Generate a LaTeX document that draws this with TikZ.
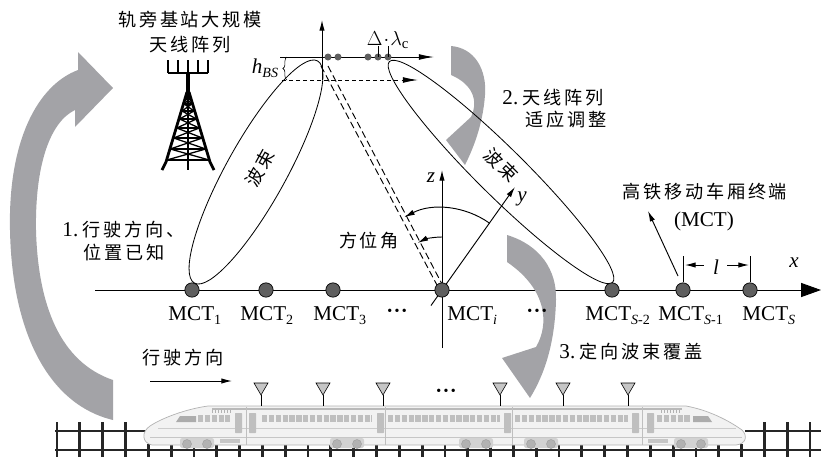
\documentclass[tikz,border=0pt]{standalone}
\usepackage{fontspec}
\setmainfont{Liberation Serif}
\newfontfamily\cjk[LetterSpace=15]{Noto Sans CJK SC}
\usepackage{tikz}
\usetikzlibrary{arrows.meta, decorations.pathreplacing}

\definecolor{bandgray}{RGB}{163,163,167}
\definecolor{dotgray}{RGB}{95,95,95}
% small lowered index in text font
\newcommand{\idx}[1]{\raisebox{-3.5pt}{\fontsize{12}{13}\selectfont #1}}

\begin{document}
\begin{tikzpicture}[x=0.3mm, y=-0.3mm, line width=0.8pt,
  >={Latex[length=9pt,width=4.5pt]},
  every node/.style={inner sep=0pt, font=\fontsize{18}{21}\selectfont},
  cn/.style={font=\fontsize{15.5}{19}\cjk},
  mct/.style={circle, draw, line width=0.6pt, fill=dotgray, minimum size=4.3mm},
  elem/.style={circle, fill=dotgray, inner sep=0pt, minimum size=2.1mm},
  band/.style={fill=bandgray, draw=none},
  beam/.style={line width=0.7pt},
  rail/.style={line width=2.4pt, black!85},
  trainant/.style={fill=gray!45, draw=black, line width=0.5pt}]
\useasboundingbox (0,0) rectangle (821,457);

% gray step arrows (1 and 2)
\fill[band] (113,420) -- (113,380) .. controls (60,362) and (38,305) .. (36,230)
  .. controls (35,165) and (50,122) .. (75,110) -- (75,127) -- (113,88) -- (78,52) -- (78,70)
  .. controls (38,85) and (8,140) .. (10,230) .. controls (12,335) and (50,405) .. (113,420) -- cycle;
\fill[band] (451,46) .. controls (475,48) and (487,70) .. (485,95)
  .. controls (483,122) and (475,145) .. (465,165) -- (446,140) -- (471,117)
  .. controls (479,100) and (472,84) .. (451,75) -- cycle;

% base station tower
\draw[line width=1pt] (168,73) -- (208,73);
\foreach \x in {168,178,188,198,208}
  \draw[line width=1pt] (\x,73) -- (\x,60);
\draw[line width=2.8pt] (188,73) -- (188,100);
\draw[line width=2.4pt] (187,92) -- (166,162) -- (162,170);
\draw[line width=2.4pt] (189,92) -- (210,162) -- (214,170);
\draw[line width=0.9pt] (188,100) -- (188,170);
\foreach \ya/\yb in {98/104,104/111,111/119,119/128,128/138,138/149,149/160} {
  \draw[line width=1.1pt] ({187-(\ya-95)*0.31},\ya) -- ({189+(\yb-95)*0.31},\yb);
  \draw[line width=1.1pt] ({189+(\ya-95)*0.31},\ya) -- ({187-(\yb-95)*0.31},\yb);
  \draw[line width=1.1pt] ({187-(\yb-95)*0.31},\yb) -- ({189+(\yb-95)*0.31},\yb);
}
\node[cn] (bsname) at (190,20) {轨旁基站大规模};
\node[cn] (bsname2) at (190,45) {天线阵列};

% antenna array and height
\coordinate (ant) at (322,80);
\draw[-{Latex[length=13pt,width=5pt]}] (280,57) -- (434,57);
\draw[dashed, -{Latex[length=13pt,width=5pt]}] (282,80) -- (418,80);
\draw[->] (ant) -- (322,20);
\foreach \x in {328,338,368,378,388}
  \node[elem] at (\x,57) {};
\draw[line width=0.6pt] (378,57) -- (378,46);
\draw[line width=0.6pt] (388,57) -- (388,46);
\node (dlam) at (388,40) {$\Delta\!\cdot\!\lambda_{\mathrm{c}}$};
\draw[decorate, decoration={brace, amplitude=3.5pt}, line width=0.5pt] (287,80) -- (287,57);
\node (hbs) at (265,68) {\textit{h}\idx{\textit{BS}}};

% beams
\draw[beam, rotate around={61:(256,172)}] (256,172) ellipse [x radius=127, y radius=30];
\draw[beam, rotate around={-44.7:(501,172)}] (501,172) ellipse [x radius=157, y radius=24];
\node[cn, rotate=61] at (260,168) {波束};
\node[cn, rotate=-45] at (501,165) {波束};
\draw[dashed, dash pattern=on 6pt off 3pt] (321,66) -- (438,287);
\draw[dashed, dash pattern=on 6pt off 3pt] (328,66) -- (443,286);

% x axis with the carriage terminals
\coordinate (xa) at (95,290);
\coordinate (xb) at (821,290);
\draw[-{Triangle[length=17pt,width=12pt]}] (xa) -- (xb);
\node at (794,263) {\textit{x}};
\coordinate (zb) at (442,348);
\coordinate (zt) at (442,170);
\draw[->] (zb) -- (zt);
\node at (431,178) {\textit{z}};
\coordinate (yb) at (431,305.5);
\coordinate (yt) at (515,187);
\draw[->] (yb) -- (yt);
\node at (522,199) {\textit{y}};

% azimuth arcs
\draw[->] (442,290) ++(-54.4:82) arc[start angle=-54.4, end angle=-117.4, radius=82];
\draw[->] (442,290) ++(-90:53) arc[start angle=-90, end angle=-117.4, radius=53];
\node[cn] (azi) at (369,241) {方位角};

% gray step arrow 3
\fill[band] (507,235) .. controls (540,245) and (557,270) .. (556,300)
  .. controls (555,340) and (546,372) .. (530,398) -- (502,358) -- (536,347)
  .. controls (549,325) and (548,290) .. (507,262) -- cycle;

\node[mct] (m1) at (192,290) {};
\node[mct] (m2) at (266,290) {};
\node[mct] (m3) at (333,290) {};
\node[mct] (mi) at (442,290) {};
\node[mct] (ms2) at (612,290) {};
\node[mct] (ms1) at (683,290) {};
\node[mct] (ms) at (750,290) {};

\node[anchor=base west] at (168,320) {MCT\idx{1}};
\node[anchor=base west] at (240,320) {MCT\idx{2}};
\node[anchor=base west] at (313,320) {MCT\idx{3}};
\node at (397,312) {\fontsize{12}{14}\selectfont •\,•\,•};
\node[anchor=base west] at (447,320) {MCT\idx{\textit{i}}};
\node at (537,312) {\fontsize{12}{14}\selectfont •\,•\,•};
\node[anchor=base west] at (585,320) {MCT\idx{\textit{S}-2}};
\node[anchor=base west] at (658,320) {MCT\idx{\textit{S}-1}};
\node[anchor=base west] at (742,320) {MCT\idx{\textit{S}}};

% terminal name and spacing
\node[cn] (mctname) at (705,192) {高铁移动车厢终端};
\node (mctlbl) at (704,221) {(MCT)};
\coordinate (ptrtail) at (678,276);
\coordinate (ptr) at (648,211);
\draw[->] (ptrtail) -- (ptr);
\draw[line width=0.6pt] (ms1.north) -- ++(0,-26);
\draw[line width=0.6pt] (ms.north) -- ++(0,-26);
\draw[<-] (685,265) -- (704,265);
\draw[->] (727,265) -- (749,265);
\node at (716,267) {\textit{l}};

% step texts
\node[cn, anchor=west] at (62,230) {{\fontsize{18}{21}\rmfamily 1.}\hspace{4pt}行驶方向、};
\node[cn, anchor=west] at (83,253) {位置已知};
\node[cn, anchor=west] at (502,98) {{\fontsize{18}{21}\rmfamily 2.}\hspace{4pt}天线阵列};
\node[cn, anchor=west] at (525,120) {适应调整};
\node[cn, anchor=west] at (559,352) {{\fontsize{18}{21}\rmfamily 3.}\hspace{4pt}定向波束覆盖};

% driving direction
\node[cn] (drive) at (183,358) {行驶方向};
\coordinate (da) at (150,381);
\coordinate (db) at (232,381);
\draw[->] (da) -- (db);

% track
\foreach \k in {0,...,3,31,32,33}
  \draw[rail] ({57+22.82*\k},422) -- ({57+22.82*\k},457);
\foreach \k in {4,...,30}
  \draw[rail] ({57+22.82*\k},444) -- ({57+22.82*\k},457);
\draw[rail] (55,431) -- (148,431);
\draw[rail] (745,431) -- (821,431);
\draw[rail] (55,450) -- (821,450);

% train
\filldraw[fill=gray!10, draw=gray!60, line width=0.6pt]
  (152,445) -- (736,445) .. controls (746,444) and (748,436) .. (742,430)
  .. controls (728,420) and (708,410) .. (686,406) -- (208,406)
  .. controls (186,409) and (162,418) .. (150,426)
  .. controls (141,432) and (142,443) .. (152,445) -- cycle;
\draw[gray!40, line width=0.5pt] (158,428) -- (736,428);
\draw[gray!45, line width=0.5pt] (150,437) -- (742,437);
\draw[gray!55, line width=1pt] (212,409) -- (682,409);
\foreach \a/\b in {198/230,262/372,388/500,515/628,657/690}
  \draw[gray!50, line width=2.1mm, dash pattern=on 1.6mm off 0.45mm] (\a,418.5) -- (\b,418.5);
\fill[gray!65] (180,416) -- (196,416) -- (196,422) -- (176,422) -- cycle;
\fill[gray!65] (693,416) -- (708,416) -- (712,422) -- (693,422) -- cycle;
\foreach \x in {212,215,...,230}
  \draw[gray!60, line width=0.4pt] (\x,409.5) -- (\x,413);
\foreach \x in {661,664,...,679}
  \draw[gray!60, line width=0.4pt] (\x,409.5) -- (\x,413);
\foreach \x in {246,385,512,642}
  \draw[gray!50, line width=0.5pt] (\x,407) -- (\x,445);
\foreach \x in {235,249,377,504,632,647}
  \fill[gray!50, rounded corners=0.5pt] (\x,413) rectangle (\x+7,433);
\fill[gray!45] (220,439) rectangle (240,443);
\fill[gray!45] (648,439) rectangle (668,443);
\foreach \b in {197,347,476,541,691} {
  \fill[gray!35, rounded corners=2pt] (\b-17,438) rectangle (\b+17,448);
  \foreach \w in {-10,10}
    \filldraw[fill=gray!60, draw=gray!75, line width=0.4pt] (\b+\w,444) circle (4.5);
}
% train roof antennas
\foreach \x in {261,323,383,500,563,628} {
  \draw[trainant] (\x-7,383) -- (\x+7,383) -- (\x,395) -- cycle;
  \draw[line width=0.6pt] (\x,395) -- (\x,406);
}
\node at (446,392) {\fontsize{12}{14}\selectfont •\,•\,•};

\end{tikzpicture}
\end{document}
